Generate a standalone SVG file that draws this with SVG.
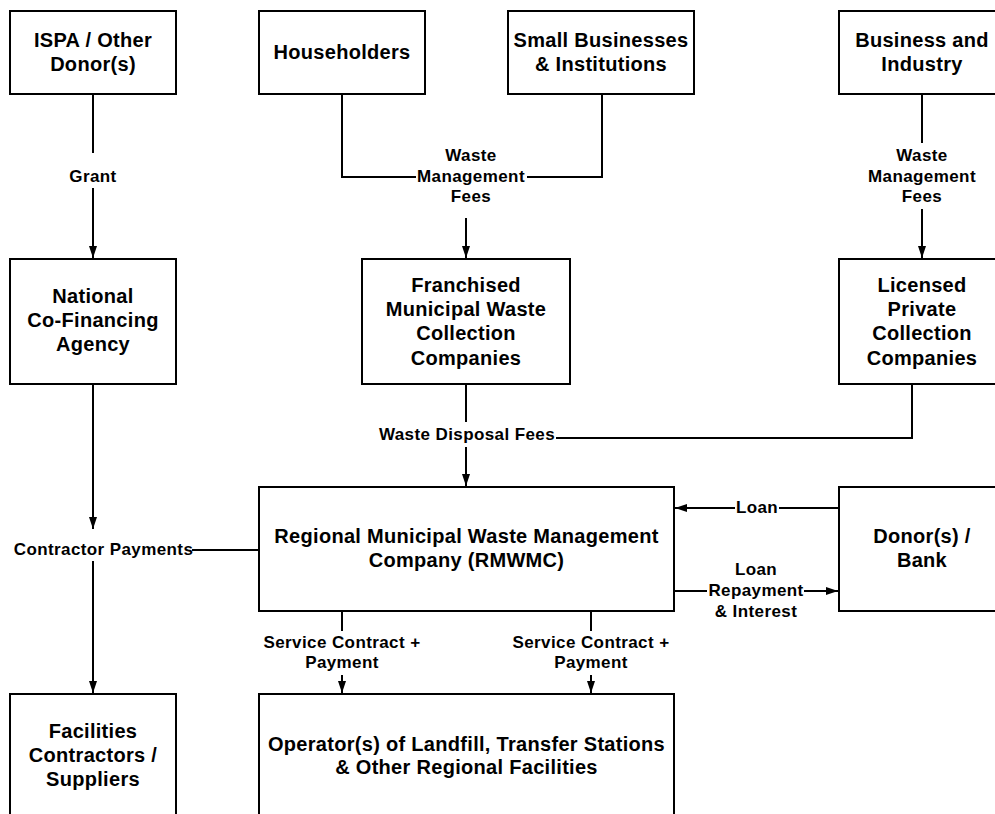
<svg xmlns="http://www.w3.org/2000/svg" width="995" height="814" viewBox="0 0 995 814">
<style>
rect.box{fill:#fff;stroke:#000;stroke-width:2}
text{font-family:"Liberation Sans",Arial,sans-serif;font-weight:bold;fill:#000;text-anchor:middle}
.n{font-size:20px;letter-spacing:0.3px}
.l{font-size:17px;letter-spacing:0.4px}
.c{fill:none;stroke:#000;stroke-width:2}
</style>
<defs>
<marker id="ah" markerUnits="userSpaceOnUse" markerWidth="12" markerHeight="8" refX="12" refY="4" orient="auto">
<path d="M0,0 L12,4 L0,8 z" fill="#000"/>
</marker>
</defs>
<rect width="995" height="814" fill="#fff"/>
<g id="connectors">
<path class="c" d="M93,94 V153"/>
<path class="c" d="M93,188 V258" marker-end="url(#ah)"/>
<path class="c" d="M342,94 V177 H416"/>
<path class="c" d="M602,94 V177 H527"/>
<path class="c" d="M466,218 V258" marker-end="url(#ah)"/>
<path class="c" d="M922,94 V143"/>
<path class="c" d="M922,209 V258" marker-end="url(#ah)"/>
<path class="c" d="M466,384 V422"/>
<path class="c" d="M466,447 V486" marker-end="url(#ah)"/>
<path class="c" d="M912,384 V438 H556"/>
<path class="c" d="M839,508 H779"/>
<path class="c" d="M735,508 H675" marker-end="url(#ah)"/>
<path class="c" d="M674,591 H707"/>
<path class="c" d="M804,591 H838" marker-end="url(#ah)"/>
<path class="c" d="M93,384 V529" marker-end="url(#ah)"/>
<path class="c" d="M192,550 H259"/>
<path class="c" d="M93,561 V693" marker-end="url(#ah)"/>
<path class="c" d="M342,612 V631"/>
<path class="c" d="M342,675 V693" marker-end="url(#ah)"/>
<path class="c" d="M591,612 V631"/>
<path class="c" d="M591,675 V693" marker-end="url(#ah)"/>
<text class="l" x="93" y="182">Grant</text>
<text class="l" x="471" y="161">Waste</text>
<text class="l" x="471" y="182">Management</text>
<text class="l" x="471" y="202">Fees</text>
<text class="l" x="922" y="161">Waste</text>
<text class="l" x="922" y="182">Management</text>
<text class="l" x="922" y="202">Fees</text>
<text class="l" x="467" y="440">Waste Disposal Fees</text>
<text class="l" x="757" y="513">Loan</text>
<text class="l" x="756" y="575">Loan</text>
<text class="l" x="756" y="596">Repayment</text>
<text class="l" x="756" y="617">&amp; Interest</text>
<text class="l" x="103.5" y="555">Contractor Payments</text>
<text class="l" x="342" y="648">Service Contract +</text>
<text class="l" x="342" y="668">Payment</text>
<text class="l" x="591" y="648">Service Contract +</text>
<text class="l" x="591" y="668">Payment</text>
</g>
<g id="ispa">
<rect class="box" x="10" y="11" width="166" height="83"/>
<text class="n" x="93" y="47">ISPA / Other</text>
<text class="n" x="93" y="71">Donor(s)</text>
</g>
<g id="householders">
<rect class="box" x="259" y="11" width="166" height="83"/>
<text class="n" x="342" y="59">Householders</text>
</g>
<g id="small-businesses">
<rect class="box" x="508" y="11" width="186" height="83"/>
<text class="n" x="601" y="47">Small Businesses</text>
<text class="n" x="601" y="71">&amp; Institutions</text>
</g>
<g id="business-industry">
<rect class="box" x="839" y="11" width="166" height="83"/>
<text class="n" x="922" y="47">Business and</text>
<text class="n" x="922" y="71">Industry</text>
</g>
<g id="national">
<rect class="box" x="10" y="259" width="166" height="125"/>
<text class="n" x="93" y="303">National</text>
<text class="n" x="93" y="327">Co-Financing</text>
<text class="n" x="93" y="351">Agency</text>
</g>
<g id="franchised">
<rect class="box" x="362" y="259" width="208" height="125"/>
<text class="n" x="466" y="292">Franchised</text>
<text class="n" x="466" y="316">Municipal Waste</text>
<text class="n" x="466" y="340">Collection</text>
<text class="n" x="466" y="365">Companies</text>
</g>
<g id="licensed">
<rect class="box" x="839" y="259" width="166" height="125"/>
<text class="n" x="922" y="292">Licensed</text>
<text class="n" x="922" y="316">Private</text>
<text class="n" x="922" y="340">Collection</text>
<text class="n" x="922" y="365">Companies</text>
</g>
<g id="rmwmc">
<rect class="box" x="259" y="487" width="415" height="124"/>
<text class="n" x="466.5" y="543">Regional Municipal Waste Management</text>
<text class="n" x="466.5" y="567">Company (RMWMC)</text>
</g>
<g id="donor-bank">
<rect class="box" x="839" y="487" width="166" height="124"/>
<text class="n" x="922" y="543">Donor(s) /</text>
<text class="n" x="922" y="567">Bank</text>
</g>
<g id="facilities">
<rect class="box" x="10" y="694" width="166" height="130"/>
<text class="n" x="93" y="738">Facilities</text>
<text class="n" x="93" y="762">Contractors /</text>
<text class="n" x="93" y="786">Suppliers</text>
</g>
<g id="operators">
<rect class="box" x="259" y="694" width="415" height="130"/>
<text class="n" x="466.5" y="751">Operator(s) of Landfill, Transfer Stations</text>
<text class="n" x="466.5" y="774">&amp; Other Regional Facilities</text>
</g>
</svg>
